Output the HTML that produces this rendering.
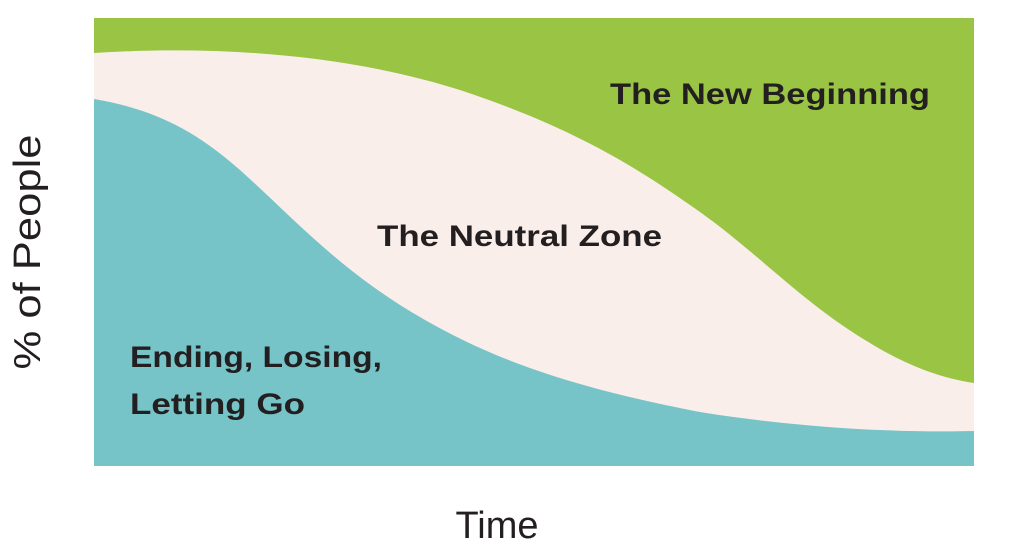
<!DOCTYPE html>
<html><head><style>
body{margin:0;background:#fff;}
svg{display:block;}
</style></head><body>
<svg width="1024" height="552" viewBox="0 0 1024 552" xmlns="http://www.w3.org/2000/svg">
<rect x="94" y="18" width="880" height="448" fill="#99c444"/>
<path d="M94,53 C220,45 350,55 460,90 C580,130 640,170 700,212 C760,255 800,300 865,340 C905,365 940,378 974,383 L974,466 L94,466 Z" fill="#f9eeea"/>
<path d="M94,99 C160,110 200,135 240,170 C290,215 330,260 400,305 C480,355 560,385 700,412 C800,428 900,433 974,431 L974,466 L94,466 Z" fill="#76c4c7"/>
<g font-family="Liberation Sans, sans-serif" font-weight="bold" fill="#231f20" font-size="30">
<text x="610" y="104" textLength="320" lengthAdjust="spacingAndGlyphs">The New Beginning</text>
<text x="377" y="246" textLength="285" lengthAdjust="spacingAndGlyphs">The Neutral Zone</text>
<text x="130" y="367" textLength="252" lengthAdjust="spacingAndGlyphs">Ending, Losing,</text>
<text x="130" y="414" textLength="175" lengthAdjust="spacingAndGlyphs">Letting Go</text>
</g>
<g font-family="Liberation Sans, sans-serif" fill="#231f20" font-size="38">
<text x="497" y="538" text-anchor="middle">Time</text>
<text transform="translate(40,252) rotate(-90)" text-anchor="middle" textLength="235" lengthAdjust="spacingAndGlyphs">% of People</text>
</g>
</svg>
</body></html>
